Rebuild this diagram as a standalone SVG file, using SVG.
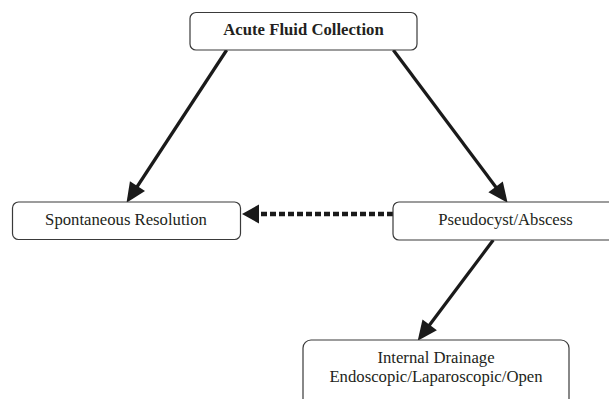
<svg xmlns="http://www.w3.org/2000/svg" width="609" height="399" viewBox="0 0 609 399">
<style>
.box{fill:#fff;stroke:#3a3a3a;stroke-width:1.2}
.lbl{font-family:"Liberation Serif","Times New Roman",serif;font-size:16.7px;fill:#231f20;text-anchor:middle}
.bold{font-weight:bold}
.solid{stroke:#1a1a1a;stroke-width:3.2;fill:none}
.dotted{stroke:#1a1a1a;stroke-width:4.5;fill:none;stroke-dasharray:6 3}
</style>
<defs>
<marker id="ah" markerUnits="userSpaceOnUse" markerWidth="21" markerHeight="18" refX="10" refY="9" orient="auto" overflow="visible">
<path d="M0,0 L20,9 L0,18 z" fill="#1a1a1a"/>
</marker>
<marker id="ahd" markerUnits="userSpaceOnUse" markerWidth="18" markerHeight="19" refX="0" refY="9.5" orient="auto" overflow="visible">
<path d="M0,0 L17,9.5 L0,19 z" fill="#1a1a1a"/>
</marker>
</defs>
<rect width="609" height="399" fill="#fff"/>
<g id="connectors">
<line class="solid" x1="226.7" y1="50" x2="132" y2="194.5" marker-end="url(#ah)"/>
<line class="solid" x1="393.3" y1="50" x2="501.6" y2="194.8" marker-end="url(#ah)"/>
<line class="solid" x1="493.3" y1="240" x2="423.7" y2="332.8" marker-end="url(#ah)"/>
<line class="dotted" x1="393" y1="214" x2="259" y2="214" marker-end="url(#ahd)"/>
</g>
<g id="acute">
<rect class="box" x="190" y="12.5" width="227" height="37.5" rx="6"/>
<text class="lbl bold" x="303.5" y="35">Acute Fluid Collection</text>
</g>
<g id="spontaneous">
<rect class="box" x="12.5" y="202" width="228" height="37.5" rx="6"/>
<text class="lbl" x="126" y="224.5">Spontaneous Resolution</text>
</g>
<g id="pseudocyst">
<rect class="box" x="393" y="202" width="230" height="38" rx="6"/>
<text class="lbl" x="505.5" y="224.5">Pseudocyst/Abscess</text>
</g>
<g id="drainage">
<rect class="box" x="303" y="340" width="266" height="80" rx="8"/>
<text class="lbl" x="436" y="363">Internal Drainage</text>
<text class="lbl" x="436" y="382">Endoscopic/Laparoscopic/Open</text>
</g>
</svg>
